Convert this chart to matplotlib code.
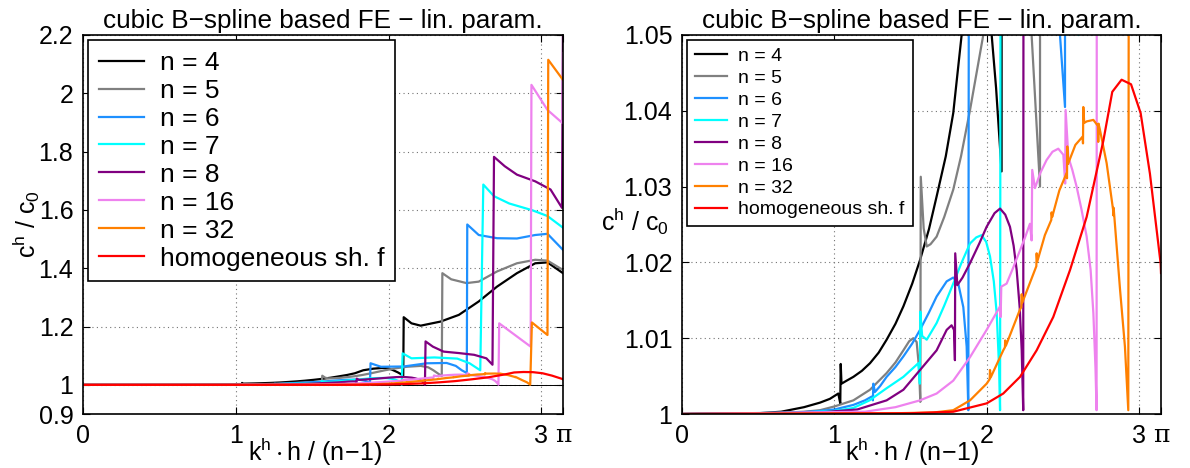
import numpy as np
import matplotlib
matplotlib.use('Agg')
import matplotlib.pyplot as plt
import matplotlib.transforms as mtransforms

plt.rcParams['font.family'] = ['Liberation Sans', 'DejaVu Sans']
plt.rcParams['mathtext.fontset'] = 'custom'
plt.rcParams['mathtext.rm'] = 'Liberation Sans'
plt.rcParams['mathtext.it'] = 'Liberation Sans'
plt.rcParams['mathtext.bf'] = 'Liberation Sans:bold'

PI = np.pi

labels = ['n = 4', 'n = 5', 'n = 6', 'n = 7', 'n = 8', 'n = 16', 'n = 32',
          'homogeneous sh. f']
colors = ['#000000', '#808080', '#1E90FF', '#00FFFF', '#800080', '#EE82EE',
          '#FF8000', '#FF0000']

# normalised phase velocity c^h/c_0 over k^h*h/(n-1)
n4_x = [0, 0.5, 0.65, 0.8, 0.905, 0.97, 1.025, 1.038, 1.041, 1.046, 1.08,
        1.124, 1.18, 1.233, 1.29, 1.342, 1.40, 1.452, 1.51, 1.561, 1.62, 1.670,
        1.73, 1.779, 1.834, 1.90, 1.96, 2.0, 2.031, 2.06, 2.096, 2.099, 2.15,
        2.21, 2.34, 2.46, 2.59, 2.71, 2.84, 2.96, 3.04, PI]
n4_y = [1, 1.0001, 1.0003, 1.0009, 1.0015, 1.0020, 1.0027, 1.0014, 1.0066,
        1.0040, 1.0044, 1.0049, 1.0057, 1.0067, 1.0081, 1.0098, 1.0119, 1.0142,
        1.0172, 1.0203, 1.0244, 1.0287, 1.0340, 1.0397, 1.0500, 1.0555, 1.058,
        1.0565, 1.050, 1.043, 1.032, 1.232, 1.211, 1.203, 1.217, 1.24, 1.286,
        1.337, 1.383, 1.417, 1.42, 1.383]

n5_x = [0, 0.6, 0.8, 0.905, 1.0, 1.124, 1.233, 1.342, 1.40, 1.452, 1.49,
        1.517, 1.539, 1.555, 1.563, 1.566, 1.585, 1.605, 1.630, 1.670, 1.72,
        1.779, 1.83, 1.889, 1.976, 2.05, 2.12, 2.21, 2.26, 2.293, 2.348, 2.352,
        2.41, 2.51, 2.59, 2.71, 2.84, 2.96, 3.04, PI]
n5_y = [1, 1.0001, 1.0003, 1.0005, 1.0010, 1.0018, 1.0032, 1.0054, 1.0068,
        1.0084, 1.0096, 1.0100, 1.0095, 1.0060, 1.0016, 1.0313, 1.0245, 1.0221,
        1.0224, 1.0234, 1.0260, 1.0296, 1.0340, 1.0401, 1.0500, 1.057, 1.062,
        1.065, 1.060, 1.05, 1.030, 1.383, 1.362, 1.349, 1.354, 1.389, 1.417,
        1.429, 1.426, 1.394]

n6_x = [0, 0.7, 0.9, 1.0, 1.124, 1.20, 1.244, 1.252, 1.255, 1.265, 1.30,
        1.342, 1.40, 1.452, 1.51, 1.561, 1.62, 1.670, 1.736, 1.779, 1.812,
        1.845, 1.867, 1.878, 1.882, 1.95, 2.1, 2.25, 2.38, 2.44, 2.479, 2.512,
        2.515, 2.59, 2.71, 2.84, 2.96, 3.04, PI]
n6_y = [1, 1.0001, 1.0004, 1.0006, 1.0012, 1.0018, 1.0023, 1.0018, 1.0040,
        1.0029, 1.0037, 1.0049, 1.0062, 1.0076, 1.0093, 1.0111, 1.0134, 1.0155,
        1.0175, 1.0180, 1.0172, 1.0141, 1.0089, 1.0005, 1.074, 1.062, 1.063,
        1.074, 1.075, 1.065, 1.050, 1.0405, 1.55, 1.514, 1.503, 1.502, 1.514,
        1.518, 1.463]

n7_x = [0, 0.8, 1.0, 1.124, 1.23, 1.342, 1.452, 1.550, 1.560, 1.563, 1.575,
        1.605, 1.670, 1.72, 1.779, 1.83, 1.889, 1.93, 1.965, 1.995, 2.020,
        2.045, 2.064, 2.080, 2.086, 2.092, 2.15, 2.3, 2.45, 2.53, 2.6, 2.62,
        2.69, 2.79, 2.94, 3.04, PI]
n7_y = [1, 1.0002, 1.0004, 1.0008, 1.0018, 1.0034, 1.0049, 1.0067, 1.0040,
        1.0135, 1.0103, 1.0098, 1.0120, 1.0143, 1.0172, 1.0198, 1.0225, 1.0233,
        1.0236, 1.0227, 1.0208, 1.0175, 1.0133, 1.0060, 1.0005, 1.108, 1.091,
        1.094, 1.09, 1.074, 1.05, 1.687, 1.647, 1.622, 1.599, 1.579, 1.539]

n8_x = [0, 0.9, 1.15, 1.342, 1.452, 1.561, 1.670, 1.736, 1.768, 1.784, 1.790,
        1.792, 1.806, 1.84, 1.889, 1.95, 1.998, 2.05, 2.086, 2.12, 2.151, 2.175,
        2.195, 2.215, 2.228, 2.238, 2.242, 2.29, 2.36, 2.46, 2.56, 2.64, 2.68,
        2.69, 2.76, 2.84, 2.96, 3.06, 3.135, PI]
n8_y = [1, 1.0002, 1.0006, 1.0018, 1.0032, 1.0058, 1.0084, 1.0111, 1.0117,
        1.0111, 1.0071, 1.0212, 1.0170, 1.0180, 1.0199, 1.0225, 1.0247, 1.0265,
        1.0271, 1.0263, 1.0247, 1.0222, 1.0190, 1.0140, 1.0084, 1.0005, 1.149,
        1.131, 1.114, 1.109, 1.103, 1.091, 1.069, 1.782, 1.75, 1.721, 1.698,
        1.67, 1.607, 2.25]

n16_x = [0, 1.2, 1.40, 1.561, 1.670, 1.779, 1.889, 1.998, 2.086, 2.090, 2.094,
         2.129, 2.17, 2.217, 2.250, 2.282, 2.293, 2.297, 2.315, 2.35, 2.391,
         2.43, 2.468, 2.501, 2.513, 2.516, 2.534, 2.56, 2.588, 2.62, 2.654,
         2.68, 2.698, 2.712, 2.719, 2.724, 2.93, 2.935, 3.04, 3.138, PI]
n16_y = [1, 1.0003, 1.0009, 1.0018, 1.0027, 1.0044, 1.0075, 1.0111, 1.0142,
         1.0128, 1.0168, 1.0172, 1.0192, 1.0216, 1.0233, 1.0251, 1.0229, 1.0322,
         1.0298, 1.0318, 1.0335, 1.0346, 1.0350, 1.0342, 1.0304, 1.0401, 1.0339,
         1.0322, 1.0300, 1.0270, 1.0234, 1.0190, 1.0133, 1.0060, 1.0005, 1.211,
         1.131, 2.029, 1.943, 1.898, 2.138]

n32_x = [0, 1.4, 1.65, 1.779, 1.889, 1.998, 2.018, 2.020, 2.024, 2.107, 2.118,
         2.120, 2.124, 2.217, 2.226, 2.228, 2.232, 2.280, 2.324, 2.326, 2.330,
         2.38, 2.422, 2.424, 2.428, 2.475, 2.523, 2.525, 2.527, 2.532, 2.58,
         2.628, 2.630, 2.632, 2.638, 2.654, 2.698, 2.728, 2.730, 2.732, 2.74,
         2.785, 2.827, 2.829, 2.831, 2.873, 2.905, 2.927, 2.938, 3.04, 3.045, PI]
n32_y = [1, 1.0001, 1.0002, 1.0005, 1.0018, 1.0040, 1.0046, 1.0058, 1.0048,
         1.0084, 1.0088, 1.0097, 1.0090, 1.0138, 1.0141, 1.0158, 1.0147, 1.0172,
         1.0195, 1.0212, 1.0201, 1.0236, 1.0256, 1.0266, 1.0260, 1.0295, 1.0318,
         1.0311, 1.0353, 1.0330, 1.0355, 1.0366, 1.0357, 1.0405, 1.0384, 1.0386,
         1.0388, 1.0380, 1.0359, 1.0383, 1.0376, 1.0331, 1.0270, 1.0262, 1.0272,
         1.0164, 1.0089, 1.0005, 1.214, 1.171, 2.115, 2.046]

hom_x = [0, 1.5, 1.779, 1.998, 2.107, 2.217, 2.326, 2.435, 2.545, 2.654, 2.764,
         2.822, 2.883, 2.945, 3.008, 3.069, 3.139, PI]
hom_y = [1, 1.0001, 1.0003, 1.0014, 1.0027, 1.0049, 1.0084, 1.0128, 1.0190,
         1.0260, 1.0361, 1.0425, 1.0441, 1.0435, 1.0397, 1.0317, 1.0199, 1.0186]

series_x = [n4_x, n5_x, n6_x, n7_x, n8_x, n16_x, n32_x, hom_x]
series_y = [n4_y, n5_y, n6_y, n7_y, n8_y, n16_y, n32_y, hom_y]

x_ticks = [0, 1, 2, 3, PI]
x_ticklabels = ['0', '1', '2', '3', '\u03c0']
left_yticks = [0.9, 1.0, 1.2, 1.4, 1.6, 1.8, 2.0, 2.2]
left_yticklabels = ['0.9', '1', '1.2', '1.4', '1.6', '1.8', '2', '2.2']
right_yticks = [1.0, 1.01, 1.02, 1.03, 1.04, 1.05]
right_yticklabels = ['1', '1.01', '1.02', '1.03', '1.04', '1.05']
reference_level = 1.0

title = 'cubic B\u2212spline based FE \u2212 lin. param.'
xlabel = r'$\mathregular{k^h \cdot h\ /\ (n\!-\!1)}$'
ylabel = r'$\mathregular{c^h\ /\ c_0}$'

W, H = 1190, 468
fig = plt.figure(figsize=(W / 100, H / 100), dpi=100)
axL = fig.add_axes([83 / W, 1 - 414 / H, 480 / W, 379 / H])
axR = fig.add_axes([682 / W, 1 - 414 / H, 479 / W, 379 / H])
pi_shift = mtransforms.ScaledTranslation(6 / 100, 0, fig.dpi_scale_trans)


def style_axes(ax, yticks, yticklabels, ylim):
    for xs, ys, c, lab in zip(series_x, series_y, colors, labels):
        ax.plot(xs, ys, color=c, lw=1.6, label=lab)
    ax.set_xlim(0, PI)
    ax.set_ylim(*ylim)
    ax.set_xticks(x_ticks)
    ax.set_xticklabels(x_ticklabels)
    pi_label = ax.get_xticklabels()[-1]
    pi_label.set_fontfamily('DejaVu Serif')
    pi_label.set_transform(pi_label.get_transform() + pi_shift)
    ax.set_yticks(yticks)
    ax.set_yticklabels(yticklabels)
    ax.tick_params(direction='in', top=True, right=True, length=5, width=0.8,
                   labelsize=18, pad=7)
    ax.grid(True, linestyle=(0, (1, 3)), color='0.45', lw=0.8)
    ax.set_axisbelow(True)
    for sp in ax.spines.values():
        sp.set_linewidth(1.2)
    ax.set_title(title, fontsize=18.8, pad=5)
    ax.set_xlabel(xlabel, fontsize=18)
    ax.xaxis.label.set_va('center')


style_axes(axL, left_yticks, left_yticklabels, (0.9, 2.2))
axL.axhline(reference_level, color='k', lw=0.7, zorder=1.5)
axL.xaxis.set_label_coords(0.483, -0.10)
axL.set_ylabel(ylabel, fontsize=18)
axL.yaxis.set_label_coords(-0.118, 0.5)
axL.yaxis.label.set_va('center')
legL = axL.legend(loc='upper left', fontsize=19, fancybox=False, edgecolor='k',
                  framealpha=1, borderaxespad=0.2, handlelength=1.7,
                  handletextpad=0.6, labelspacing=0.15, borderpad=0.4)
legL.get_frame().set_linewidth(1.2)

style_axes(axR, right_yticks, right_yticklabels, (1.0, 1.05))
axR.xaxis.set_label_coords(0.48, -0.10)
axR.set_ylabel(ylabel, fontsize=18, rotation=0)
axR.yaxis.set_label_coords(-0.098, 0.507)
axR.yaxis.label.set_ha('center')
axR.yaxis.label.set_va('center')
legR = axR.legend(loc='upper left', fontsize=14, fancybox=False, edgecolor='k',
                  framealpha=1, borderaxespad=0.25, handlelength=1.65,
                  handletextpad=0.6, labelspacing=0.22, borderpad=0.4)
legR.get_frame().set_linewidth(1.2)

fig.savefig('out.png', dpi=100)
